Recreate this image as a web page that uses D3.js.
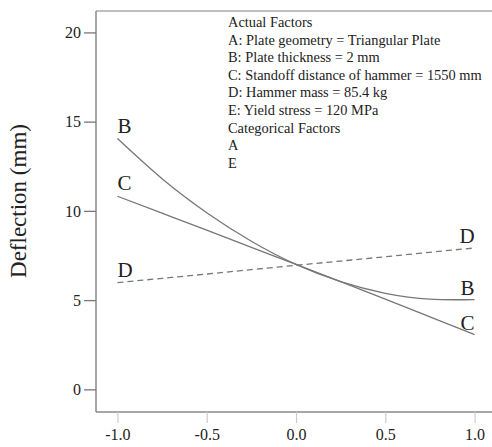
<!DOCTYPE html>
<html>
<head>
<meta charset="utf-8">
<script src="https://cdn.jsdelivr.net/npm/d3@7"></script>
<style>
  html, body { margin: 0; padding: 0; background: #fff; }
  svg { display: block; }
  text { font-family: "Liberation Serif", "Times New Roman", serif; fill: #222; }
</style>
</head>
<body>
<svg id="chart" width="492" height="447"></svg>
<script>
// Perturbation plot: deviation from reference point (coded units) vs. deflection
const xTicks = [-1.0, -0.5, 0.0, 0.5, 1.0];
const yTicks = [0, 5, 10, 15, 20];

const deviation = [-1.0, -0.75, -0.5, -0.25, 0.0, 0.25, 0.5, 0.75, 1.0];
const factorB = [14.05, 11.8, 9.9, 8.3, 7.0, 6.03, 5.38, 5.05, 5.03];
const factorC = [10.82, 9.87, 8.92, 7.96, 7.0, 6.03, 5.05, 4.06, 3.07];
const factorD = [5.98, 6.22, 6.46, 6.71, 6.95, 7.19, 7.43, 7.68, 7.92];

const legendLines = [
  "Actual Factors",
  "A: Plate geometry = Triangular Plate",
  "B: Plate thickness = 2 mm",
  "C: Standoff distance of hammer = 1550 mm",
  "D: Hammer mass = 85.4 kg",
  "E: Yield stress = 120 MPa",
  "Categorical Factors",
  "A",
  "E"
];

const series = [
  { name: "B", values: factorB, dash: null },
  { name: "C", values: factorC, dash: null },
  { name: "D", values: factorD, dash: "6,4" }
];

const svg = d3.select("#chart");
const plotL = 96, plotR = 496, plotT = 11, plotB = 412;

const x = d3.scaleLinear().domain([-1.12, 1.12]).range([plotL, plotR]);
const y = d3.scaleLinear().domain([-1.27, 21.2]).range([plotB, plotT]);

// frame
svg.append("line").attr("x1", plotL).attr("x2", 492).attr("y1", plotT).attr("y2", plotT)
  .attr("stroke", "#aaa").attr("stroke-width", 1.5);
svg.append("line").attr("x1", plotL).attr("x2", plotL).attr("y1", plotT).attr("y2", plotB)
  .attr("stroke", "#888").attr("stroke-width", 1.5);
svg.append("line").attr("x1", plotL).attr("x2", 492).attr("y1", plotB).attr("y2", plotB)
  .attr("stroke", "#888").attr("stroke-width", 1.5);

// y axis
const yAxis = d3.axisLeft(y).tickValues(yTicks).tickFormat(d => String(d))
  .tickSize(12).tickPadding(3);
const gy = svg.append("g").attr("transform", `translate(${plotL},0)`).call(yAxis);
gy.select(".domain").remove();
gy.selectAll(".tick line").attr("stroke", "#777").attr("stroke-width", 1.3);
gy.selectAll(".tick text").style("font-size", "16px").attr("fill", "#222")
  .style("font-family", "Liberation Serif, serif");

// x axis (plain hyphen for negatives)
const xAxis = d3.axisBottom(x).tickValues(xTicks).tickFormat(d => d.toFixed(1))
  .tickSize(11).tickPadding(6);
const gx = svg.append("g").attr("transform", `translate(0,${plotB})`).call(xAxis);
gx.select(".domain").remove();
gx.selectAll(".tick line").attr("stroke", "#ccc").attr("stroke-width", 1.2);
gx.selectAll(".tick text").style("font-size", "16px").attr("fill", "#222")
  .style("font-family", "Liberation Serif, serif");

// y axis title
svg.append("text")
  .attr("transform", `translate(26,201) rotate(-90)`)
  .attr("text-anchor", "middle")
  .style("font-size", "23px")
  .text("Deflection (mm)");

// factor curves
const line = d3.line()
  .x((d, i) => x(deviation[i]))
  .y(d => y(d))
  .curve(d3.curveNatural);

series.forEach(s => {
  svg.append("path")
    .datum(s.values)
    .attr("d", line)
    .attr("fill", "none")
    .attr("stroke", "#777")
    .attr("stroke-width", 1.3)
    .attr("stroke-dasharray", s.dash);
  const n = s.values.length - 1;
  svg.append("text")
    .attr("x", x(deviation[0]))
    .attr("y", y(s.values[0]) - 6)
    .style("font-size", "21px")
    .text(s.name);
  svg.append("text")
    .attr("x", x(deviation[n]))
    .attr("y", y(s.values[n]) - 5)
    .attr("text-anchor", "end")
    .style("font-size", "21px")
    .text(s.name);
});

// factor settings legend
svg.append("g").selectAll("text")
  .data(legendLines)
  .join("text")
  .attr("x", 228)
  .attr("y", (d, i) => 27 + i * 17.6)
  .style("font-size", "14.4px")
  .text(d => d);
</script>
</body>
</html>
